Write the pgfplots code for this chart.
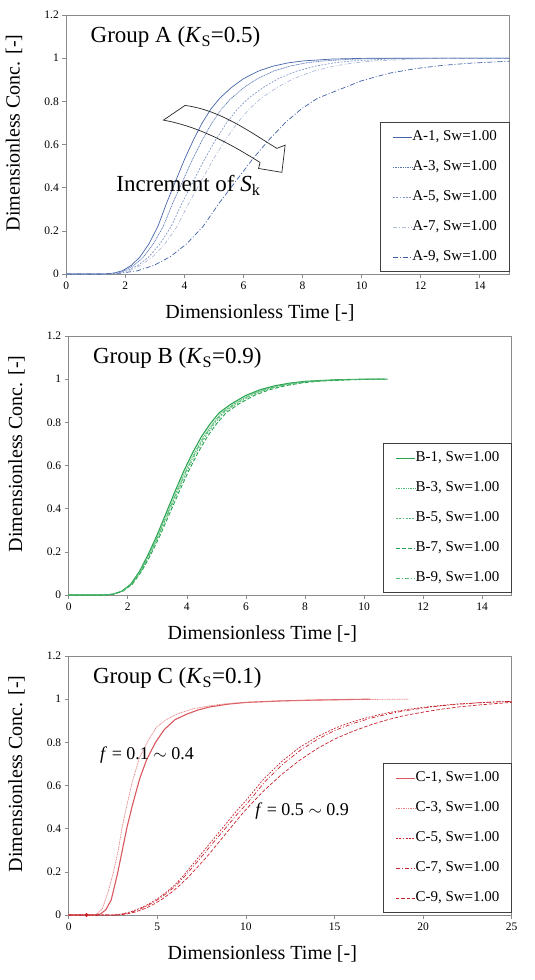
\documentclass[border=0pt]{standalone}
\usepackage{fontspec}
\setmainfont{Liberation Serif}
\usepackage{pgfplots}
\pgfplotsset{compat=1.18}
\definecolor{axgray}{HTML}{8A8A8A}
\definecolor{bA}{HTML}{4565A8}
\definecolor{bA3}{HTML}{5A76B4}
\definecolor{bA5}{HTML}{7F95C8}
\definecolor{bA7}{HTML}{AEBBDC}
\definecolor{bA9}{HTML}{3F5FA5}
\definecolor{gB}{HTML}{2AA552}
\definecolor{gB3}{HTML}{52BA73}
\definecolor{rC1}{HTML}{D9575D}
\definecolor{rC3}{HTML}{E58080}
\definecolor{rC}{HTML}{C8222C}
\pgfplotsset{
 panel/.style={
  width=443pt, height=259pt, scale only axis,
  xmin=0, ymin=0, ymax=1.2,
  ytick={0,0.2,0.4,0.6,0.8,1,1.2},
  axis line style={axgray, line width=0.8pt},
  tick style={axgray, line width=0.6pt},
  tick align=outside, major tick length=4pt,
  xtick pos=bottom, ytick pos=left,
  tick label style={font=\fontsize{11.5}{12}\selectfont, black},
  /pgf/number format/assume math mode=true,
  label style={font=\fontsize{20}{22}\selectfont, black},
  xlabel={Dimensionless Time [-]},
  ylabel={Dimensionless Conc. [-]},
  xlabel style={at={(axis description cs:0.437,-0.152)}, anchor=center},
  ylabel style={at={(axis description cs:-0.118,0.545)}, anchor=center},
  legend style={at={(1,0.008)}, anchor=south east, draw=black!75, fill=white, line width=0.6pt,
    font=\fontsize{15}{15}\selectfont, inner xsep=12pt, inner ysep=8pt, row sep=17pt,
    nodes={inner sep=0pt, text height=10pt, text depth=3pt}},
  legend cell align=left,
  legend image code/.code={\draw[##1] (0pt,0pt) -- (19pt,0pt);},
  every axis plot/.append style={line width=0.7pt},
 }
}
\begin{document}
\begin{tikzpicture}
\useasboundingbox (0,0) rectangle (535pt,-980pt);
% ---------------- Panel A ----------------
\begin{axis}[panel, at={(66.3pt,-15pt)}, anchor=north west, xmax=15, xtick={0,2,4,6,8,10,12,14}]
\addplot[bA] coordinates {(0,0)(1.3,0)(1.6,0.004)(1.9,0.015)(2.2,0.04)(2.5,0.08)(2.8,0.14)(3.1,0.22)(3.4,0.33)(3.7,0.43)(4.0,0.53)(4.3,0.62)(4.6,0.70)(4.9,0.765)(5.2,0.815)(5.6,0.865)(6.0,0.905)(6.5,0.94)(7.0,0.963)(7.5,0.978)(8.0,0.987)(9.0,0.996)(10.0,0.999)(11.0,1)(15,1)};
\addlegendentry{A-1, Sw=1.00}
\addplot[bA3, dash pattern=on 1pt off 0.7pt] coordinates {(0,0)(1.3,0)(1.63,0.004)(1.96,0.015)(2.29,0.04)(2.62,0.08)(2.95,0.14)(3.28,0.22)(3.61,0.33)(3.94,0.43)(4.27,0.53)(4.6,0.62)(4.93,0.70)(5.26,0.765)(5.59,0.815)(6.03,0.865)(6.47,0.905)(7.02,0.94)(7.57,0.963)(8.12,0.978)(8.67,0.987)(9.77,0.996)(10.87,0.999)(11.97,1)(15,1)};
\addlegendentry{A-3, Sw=1.00}
\addplot[bA5, dash pattern=on 1.8pt off 1.5pt] coordinates {(0,0)(1.3,0)(1.675,0.004)(2.05,0.015)(2.425,0.04)(2.8,0.08)(3.175,0.14)(3.55,0.22)(3.925,0.33)(4.3,0.43)(4.675,0.53)(5.05,0.62)(5.425,0.70)(5.8,0.765)(6.175,0.815)(6.675,0.865)(7.175,0.905)(7.8,0.94)(8.425,0.963)(9.05,0.978)(9.675,0.987)(10.925,0.996)(12.175,0.999)(13.425,1)(15,1)};
\addlegendentry{A-5, Sw=1.00}
\addplot[bA7, dash pattern=on 4pt off 2pt on 1pt off 2pt] coordinates {(0,0)(1.3,0)(1.708,0.004)(2.116,0.015)(2.524,0.04)(2.932,0.08)(3.34,0.14)(3.748,0.22)(4.156,0.33)(4.564,0.43)(4.972,0.53)(5.38,0.62)(5.788,0.70)(6.196,0.765)(6.604,0.815)(7.148,0.865)(7.692,0.905)(8.372,0.94)(9.052,0.963)(9.732,0.978)(10.412,0.987)(11.772,0.996)(13.132,0.999)(14.492,1)(15,1)};
\addlegendentry{A-7, Sw=1.00}
\addplot[bA9, dash pattern=on 5pt off 2pt on 1pt off 2pt] coordinates {(0,0)(1.3,0)(1.855,0.004)(2.41,0.015)(2.965,0.04)(3.52,0.08)(4.075,0.14)(4.63,0.22)(5.185,0.33)(5.74,0.43)(6.295,0.53)(6.85,0.62)(7.405,0.70)(7.96,0.765)(8.515,0.815)(9.255,0.855)(9.995,0.895)(10.92,0.93)(11.845,0.952)(12.77,0.967)(13.695,0.977)(15,0.986)};
\addlegendentry{A-9, Sw=1.00}
\node[anchor=base west, font=\fontsize{23}{25}\selectfont] at (axis description cs:0.047,0.892) {Group A (\textit{K}\textsubscript{S}=0.5)};
\node[anchor=base west, font=\fontsize{23}{25}\selectfont] at (axis cs:1.58,0.381) {Increment of \textit{S}\textsubscript{k}};
\draw[black!85, line width=0.7pt] (axis cs:3.29,0.713) -- (axis cs:4.02,0.781)
  .. controls (axis cs:5.2,0.76) and (axis cs:6.2,0.66) .. (axis cs:7.13,0.582)
  -- (axis cs:7.41,0.597) -- (axis cs:7.30,0.471) -- (axis cs:6.51,0.489) -- (axis cs:6.56,0.517)
  .. controls (axis cs:5.7,0.59) and (axis cs:4.6,0.68) .. cycle;
\end{axis}
% ---------------- Panel B ----------------
\begin{axis}[panel, at={(68.7pt,-336pt)}, anchor=north west, xmax=15, xtick={0,2,4,6,8,10,12,14}]
\addplot[gB, line width=1.1pt] coordinates {(0,0)(1.2,0)(1.5,0.004)(1.8,0.018)(2.1,0.05)(2.4,0.11)(2.7,0.19)(3.0,0.28)(3.3,0.38)(3.6,0.48)(3.9,0.575)(4.2,0.66)(4.5,0.735)(4.8,0.795)(5.1,0.845)(5.5,0.885)(6.0,0.925)(6.5,0.952)(7.0,0.97)(7.5,0.982)(8.0,0.99)(9.0,0.997)(10.0,1)(10.8,1)};
\addlegendentry{B-1, Sw=1.00}
\addplot[gB3, dash pattern=on 1pt off 0.7pt] coordinates {(0,0)(1.2,0)(1.506,0.004)(1.812,0.018)(2.118,0.05)(2.424,0.11)(2.73,0.19)(3.036,0.28)(3.342,0.38)(3.648,0.48)(3.954,0.575)(4.26,0.66)(4.566,0.735)(4.872,0.795)(5.178,0.845)(5.586,0.885)(6.096,0.925)(6.606,0.952)(7.116,0.97)(7.626,0.982)(8.136,0.99)(9.156,0.997)(10.176,1)(10.7,1)};
\addlegendentry{B-3, Sw=1.00}
\addplot[gB3, dash pattern=on 1.8pt off 1.5pt] coordinates {(0,0)(1.2,0)(1.512,0.004)(1.824,0.018)(2.136,0.05)(2.448,0.11)(2.76,0.19)(3.072,0.28)(3.384,0.38)(3.696,0.48)(4.008,0.575)(4.32,0.66)(4.632,0.735)(4.944,0.795)(5.256,0.845)(5.672,0.885)(6.192,0.925)(6.712,0.952)(7.232,0.97)(7.752,0.982)(8.272,0.99)(9.312,0.997)(10.352,1)(10.7,1)};
\addlegendentry{B-5, Sw=1.00}
\addplot[gB, line width=0.9pt, dash pattern=on 4pt off 2pt] coordinates {(0,0)(1.2,0)(1.518,0.004)(1.836,0.018)(2.154,0.05)(2.472,0.11)(2.79,0.19)(3.108,0.28)(3.426,0.38)(3.744,0.48)(4.062,0.575)(4.38,0.66)(4.698,0.735)(5.016,0.795)(5.334,0.845)(5.758,0.885)(6.288,0.925)(6.818,0.952)(7.348,0.97)(7.878,0.982)(8.408,0.99)(9.468,0.997)(10.528,1)(10.7,1)};
\addlegendentry{B-7, Sw=1.00}
\addplot[gB3, dash pattern=on 4pt off 2pt on 1pt off 2pt] coordinates {(0,0)(1.2,0)(1.509,0.004)(1.818,0.018)(2.127,0.05)(2.436,0.11)(2.745,0.19)(3.054,0.28)(3.363,0.38)(3.672,0.48)(3.981,0.575)(4.29,0.66)(4.599,0.735)(4.908,0.795)(5.217,0.845)(5.629,0.885)(6.144,0.925)(6.659,0.952)(7.174,0.97)(7.689,0.982)(8.204,0.99)(9.234,0.997)(10.264,1)(10.7,1)};
\addlegendentry{B-9, Sw=1.00}
\node[anchor=base west, font=\fontsize{23}{25}\selectfont] at (axis description cs:0.047,0.892) {Group B (\textit{K}\textsubscript{S}=0.9)};
\end{axis}
% ---------------- Panel C ----------------
\begin{axis}[panel, at={(68.7pt,-656pt)}, anchor=north west, xmax=25, xtick={0,5,10,15,20,25}]
\addplot[rC1, line width=1.1pt] coordinates {(0,0)(1.5,0)(1.8,0.005)(2.1,0.025)(2.4,0.07)(2.75,0.19)(3.0,0.29)(3.3,0.41)(3.6,0.51)(4.0,0.63)(4.4,0.72)(4.9,0.80)(5.4,0.86)(6.0,0.905)(6.64,0.93)(7.3,0.95)(7.96,0.964)(9,0.977)(10,0.985)(12,0.992)(14,0.996)(17,1)};
\addlegendentry{C-1, Sw=1.00}
\addplot[rC3, dash pattern=on 1pt off 0.7pt] coordinates {(0,0)(1.3,0)(1.6,0.005)(1.9,0.03)(2.2,0.1)(2.5,0.19)(2.8,0.3)(3.0,0.4)(3.26,0.5)(3.6,0.62)(4.0,0.73)(4.5,0.81)(4.95,0.87)(5.5,0.905)(6.08,0.93)(7.0,0.955)(8.0,0.97)(9,0.98)(10,0.985)(12,0.992)(14,0.996)(16,0.998)(19.2,1)};
\addlegendentry{C-3, Sw=1.00}
\addplot[rC, dash pattern=on 1.8pt off 1.5pt] coordinates {(0,0)(2.5,0)(3,0.005)(3.5,0.015)(4,0.03)(4.5,0.05)(5,0.075)(5.5,0.105)(6,0.14)(6.5,0.185)(7,0.235)(7.5,0.285)(8,0.335)(8.5,0.385)(9,0.435)(9.5,0.485)(10,0.53)(11,0.63)(12,0.71)(13,0.775)(14,0.825)(15,0.865)(16,0.895)(17,0.918)(18,0.937)(19,0.951)(20,0.962)(21,0.971)(22,0.978)(23,0.983)(24,0.987)(25,0.99)};
\addlegendentry{C-5, Sw=1.00}
\addplot[rC, dash pattern=on 4pt off 2pt on 1pt off 2pt] coordinates {(0,0)(2.6,0)(3.1,0.005)(3.6,0.015)(4.1,0.03)(4.6,0.05)(5.1,0.075)(5.6,0.105)(6.1,0.14)(6.6,0.184)(7.1,0.232)(7.6,0.28)(8.1,0.33)(8.6,0.378)(9.1,0.427)(9.6,0.476)(10.1,0.52)(11.1,0.62)(12.1,0.70)(13.1,0.765)(14.1,0.817)(15.1,0.858)(16.1,0.889)(17.1,0.913)(18.1,0.933)(19.1,0.948)(20.1,0.96)(21.1,0.97)(22.1,0.977)(23.1,0.983)(24,0.987)(25,0.99)};
\addlegendentry{C-7, Sw=1.00}
\addplot[rC, dash pattern=on 3.5pt off 1.8pt] coordinates {(0,0)(2.8,0)(3.3,0.005)(3.8,0.015)(4.3,0.03)(4.8,0.05)(5.3,0.075)(5.8,0.105)(6.3,0.14)(6.8,0.18)(7.3,0.225)(7.8,0.27)(8.3,0.32)(8.8,0.37)(9.3,0.42)(9.8,0.47)(10.3,0.515)(11,0.575)(12,0.65)(13,0.715)(14,0.77)(15,0.815)(16,0.85)(17,0.88)(18,0.905)(19,0.925)(20,0.94)(21,0.953)(22,0.964)(23,0.972)(24,0.979)(25,0.985)};
\addlegendentry{C-9, Sw=1.00}
\addplot[only marks, mark=*, mark size=1.6pt, color=rC, forget plot] coordinates {(1,0)};
\node[anchor=base west, font=\fontsize{23}{25}\selectfont] at (axis description cs:0.047,0.892) {Group C (\textit{K}\textsubscript{S}=0.1)};
\node[anchor=base west, font=\fontsize{18}{20}\selectfont] at (axis cs:1.58,0.72) {\textit{f} = 0.1 $\sim$ 0.4};
\node[anchor=base west, font=\fontsize{18}{20}\selectfont] at (axis cs:10.33,0.46) {\textit{f} = 0.5 $\sim$ 0.9};
\end{axis}
\end{tikzpicture}
\end{document}
